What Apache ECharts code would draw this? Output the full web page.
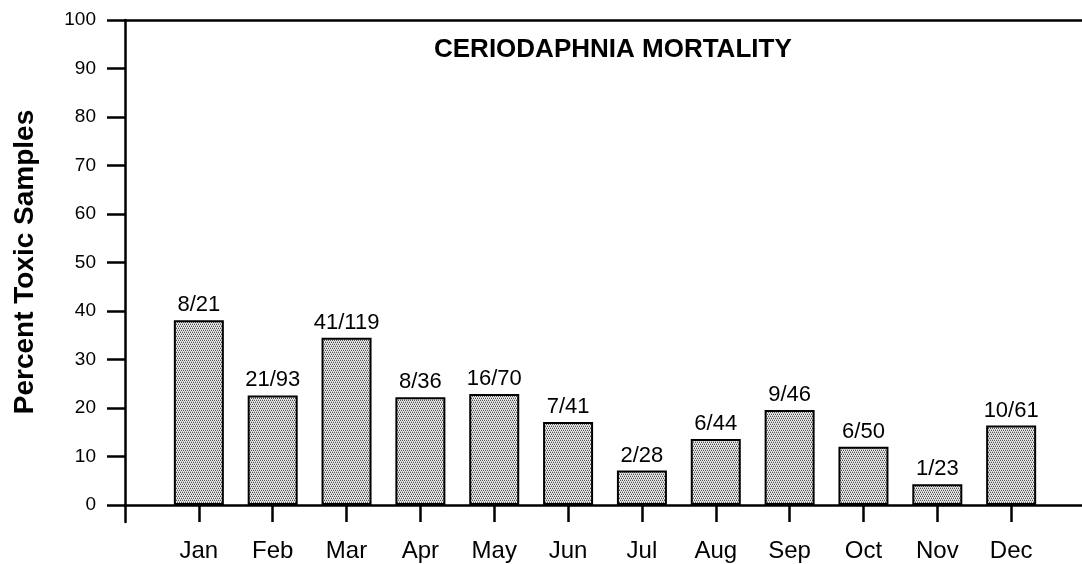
<!DOCTYPE html>
<html>
<head>
<meta charset="utf-8">
<script src="https://cdn.jsdelivr.net/npm/echarts@6/dist/echarts.min.js"></script>
<style>
html,body{margin:0;padding:0;background:#fff;overflow:hidden;}
#chart{width:1082px;height:564px;}
</style>
</head>
<body>
<div id="chart"></div>
<script>
var months = ['Jan','Feb','Mar','Apr','May','Jun','Jul','Aug','Sep','Oct','Nov','Dec'];
var percentToxic = [38.1, 22.6, 34.5, 22.2, 22.9, 17.1, 7.1, 13.6, 19.6, 12.0, 4.3, 16.4];
var sampleLabels = ['8/21','21/93','41/119','8/36','16/70','7/41','2/28','6/44','9/46','6/50','1/23','10/61'];
var yTicks = [0,10,20,30,40,50,60,70,80,90,100];
var titleText = 'CERIODAPHNIA MORTALITY';
var yName = 'Percent Toxic Samples';

var monthIdx = months.map(function(m, i){ return i; });

var pc = document.createElement('canvas');
pc.width = 4; pc.height = 4;
var pctx = pc.getContext('2d');
pctx.fillStyle = '#ebebeb';
pctx.fillRect(0,0,4,4);
pctx.fillStyle = '#505050';
[[0,0],[2,0],[1,2],[3,2]].forEach(function(p){ pctx.fillRect(p[0], p[1], 1, 1); });
pctx.fillStyle = '#b0b0b0';
[[1,1],[3,1],[0,3],[2,3]].forEach(function(p){ pctx.fillRect(p[0], p[1], 1, 1); });

var font = "'Liberation Sans', Arial, sans-serif";
var chart = echarts.init(document.getElementById('chart'), null, {renderer: 'canvas'});
var option = {
  animation: false,
  backgroundColor: '#fff',
  title: {
    text: titleText,
    left: 429, top: 32,
    textStyle: {fontFamily: font, fontSize: 26, fontWeight: 'bold', color: '#000'}
  },
  grid: {left: 125, top: 20, width: 960, height: 502, containLabel: false, outerBoundsMode: 'none'},
  xAxis: [{
    type: 'value', min: -1, max: 12, interval: 1, position: 'bottom',
    axisLine: {show: true, onZero: true, lineStyle: {color: '#000', width: 2.5}},
    axisTick: {show: true, inside: false, length: 17, customValues: monthIdx, lineStyle: {color: '#000', width: 2.5}},
    axisLabel: {show: true, customValues: monthIdx, margin: 17, fontFamily: font, fontSize: 24, color: '#000',
      formatter: function(v){ return months[Math.round(v)] || ''; }},
    splitLine: {show: false}
  }, {
    type: 'value', min: -1, max: 12, position: 'top',
    axisLine: {show: true, onZero: false, lineStyle: {color: '#000', width: 2.5}},
    axisTick: {show: false}, axisLabel: {show: false}, splitLine: {show: false}
  }],
  yAxis: {
    type: 'value', min: -3.5, max: 100, interval: 10,
    name: yName, nameLocation: 'middle', nameGap: 86,
    nameTextStyle: {fontFamily: font, fontSize: 28, fontWeight: 'bold', color: '#000', padding: [0, 0, 0, 18]},
    axisLine: {show: true, onZero: false, lineStyle: {color: '#000', width: 2.5}},
    axisTick: {show: true, inside: false, length: 18, customValues: yTicks, lineStyle: {color: '#000', width: 2.5}},
    axisLabel: {show: true, customValues: yTicks, margin: 29, fontFamily: font, fontSize: 19, color: '#000'},
    splitLine: {show: false}
  },
  series: [{
    type: 'bar',
    xAxisIndex: 0,
    barWidth: 50,
    data: percentToxic.map(function(v, i){ return [monthIdx[i], v]; }),
    itemStyle: {
      color: {image: pc, repeat: 'repeat'},
      borderColor: '#000', borderWidth: 2
    },
    label: {
      show: true, position: 'top', distance: 4,
      fontFamily: font, fontSize: 22, color: '#000',
      formatter: function(p){ return sampleLabels[p.dataIndex]; }
    }
  }]
};
chart.setOption(option);
</script>
</body>
</html>
